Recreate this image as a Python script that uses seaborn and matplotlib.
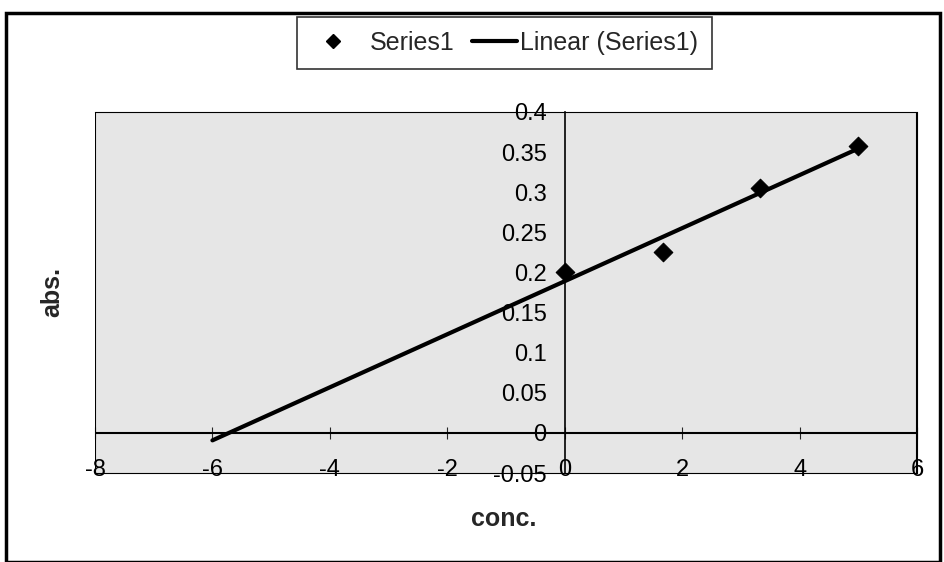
import numpy as np
import pandas as pd
import matplotlib
matplotlib.use("Agg")
import matplotlib.pyplot as plt
import seaborn as sns
from matplotlib.lines import Line2D
from matplotlib.patches import Rectangle

# data
conc = [0, 1.67, 3.33, 5]
absorb = [0.2, 0.225, 0.305, 0.357]
x_ticks = [-8, -6, -4, -2, 0, 2, 4, 6]
y_ticks = [-0.05, 0, 0.05, 0.1, 0.15, 0.2, 0.25, 0.3, 0.35, 0.4]
y_tick_labels = ["-0.05", "0", "0.05", "0.1", "0.15", "0.2", "0.25", "0.3", "0.35", "0.4"]
backward_forecast = 6

df = pd.DataFrame({"conc": conc, "abs": absorb})

# linear trendline (Excel style, extended backwards)
slope, intercept = np.polyfit(df["conc"], df["abs"], 1)
trend = pd.DataFrame({"conc": [min(conc) - backward_forecast, max(conc)]})
trend["abs"] = slope * trend["conc"] + intercept

sns.set_style("white")
plt.rcParams["font.family"] = ["Liberation Sans", "DejaVu Sans"]

fig = plt.figure(figsize=(9.45, 5.62), dpi=100)
ax = fig.add_axes([95 / 945, 1 - 473 / 562, 822 / 945, 361 / 562])
ax.set_facecolor("#e6e6e6")

sns.lineplot(data=trend, x="conc", y="abs", color="black", linewidth=3, ax=ax)
sns.scatterplot(data=df, x="conc", y="abs", marker="D", s=90, color="black",
                edgecolor="black", ax=ax, zorder=5)

ax.set_xlim(-8, 6)
ax.set_ylim(-0.05, 0.4)
ax.set_xticks(x_ticks)
ax.set_xticklabels([str(t) for t in x_ticks])
ax.set_yticks(y_ticks)
ax.set_yticklabels(y_tick_labels)
ax.set_xlabel("")
ax.set_ylabel("")

# axes cross at the origin
ax.spines["left"].set_position(("data", 0))
ax.spines["left"].set_linewidth(1.2)
ax.spines["top"].set_linestyle((0, (1, 1)))
ax.spines["bottom"].set_linestyle((0, (1, 1)))
for s in ax.spines.values():
    s.set_color("black")
ax.axhline(0, color="black", linewidth=1.5, zorder=3)
ax.axvline(-8, color="black", linewidth=1.5)
ax.axvline(6, color="black", linewidth=1.5)

ax.tick_params(axis="y", direction="out", length=3, width=1, labelsize=17, pad=10, colors="black")
ax.tick_params(axis="x", length=0, labelsize=17, pad=-10, colors="black")

sec = ax.secondary_xaxis(0.05 / 0.45)
sec.set_xticks(x_ticks)
sec.tick_params(direction="inout", length=8, labelbottom=False)
sec.spines["bottom"].set_visible(False)

fig.text(504 / 945, 1 - 519 / 562, "conc.", ha="center", va="center",
         fontsize=18, fontweight="bold")
fig.text(52 / 945, 1 - 292 / 562, "abs.", ha="center", va="center",
         fontsize=18, fontweight="bold", rotation=90)

handles = [
    Line2D([], [], marker="D", color="black", linestyle="none", markersize=7),
    Line2D([], [], color="black", linewidth=3),
]
leg = fig.legend(handles, ["Series1", "Linear (Series1)"], loc="center",
                 bbox_to_anchor=(504.5 / 945, 1 - 43 / 562), ncol=2, frameon=True,
                 fancybox=False, edgecolor="black", fontsize=18,
                 handlelength=1.8, columnspacing=1.1, handletextpad=0.15,
                 borderpad=0.55, borderaxespad=0)
leg.get_frame().set_linewidth(1.2)
# first handle sits further from its text in the reference
leg.get_texts()[0].set_position((10, 0))

# outer chart border
fig.patches.append(Rectangle((6 / 945, 0), 934 / 945, 1 - 13 / 562,
                             transform=fig.transFigure, fill=False,
                             edgecolor="black", linewidth=2.5))

fig.savefig("out.png", dpi=100)
